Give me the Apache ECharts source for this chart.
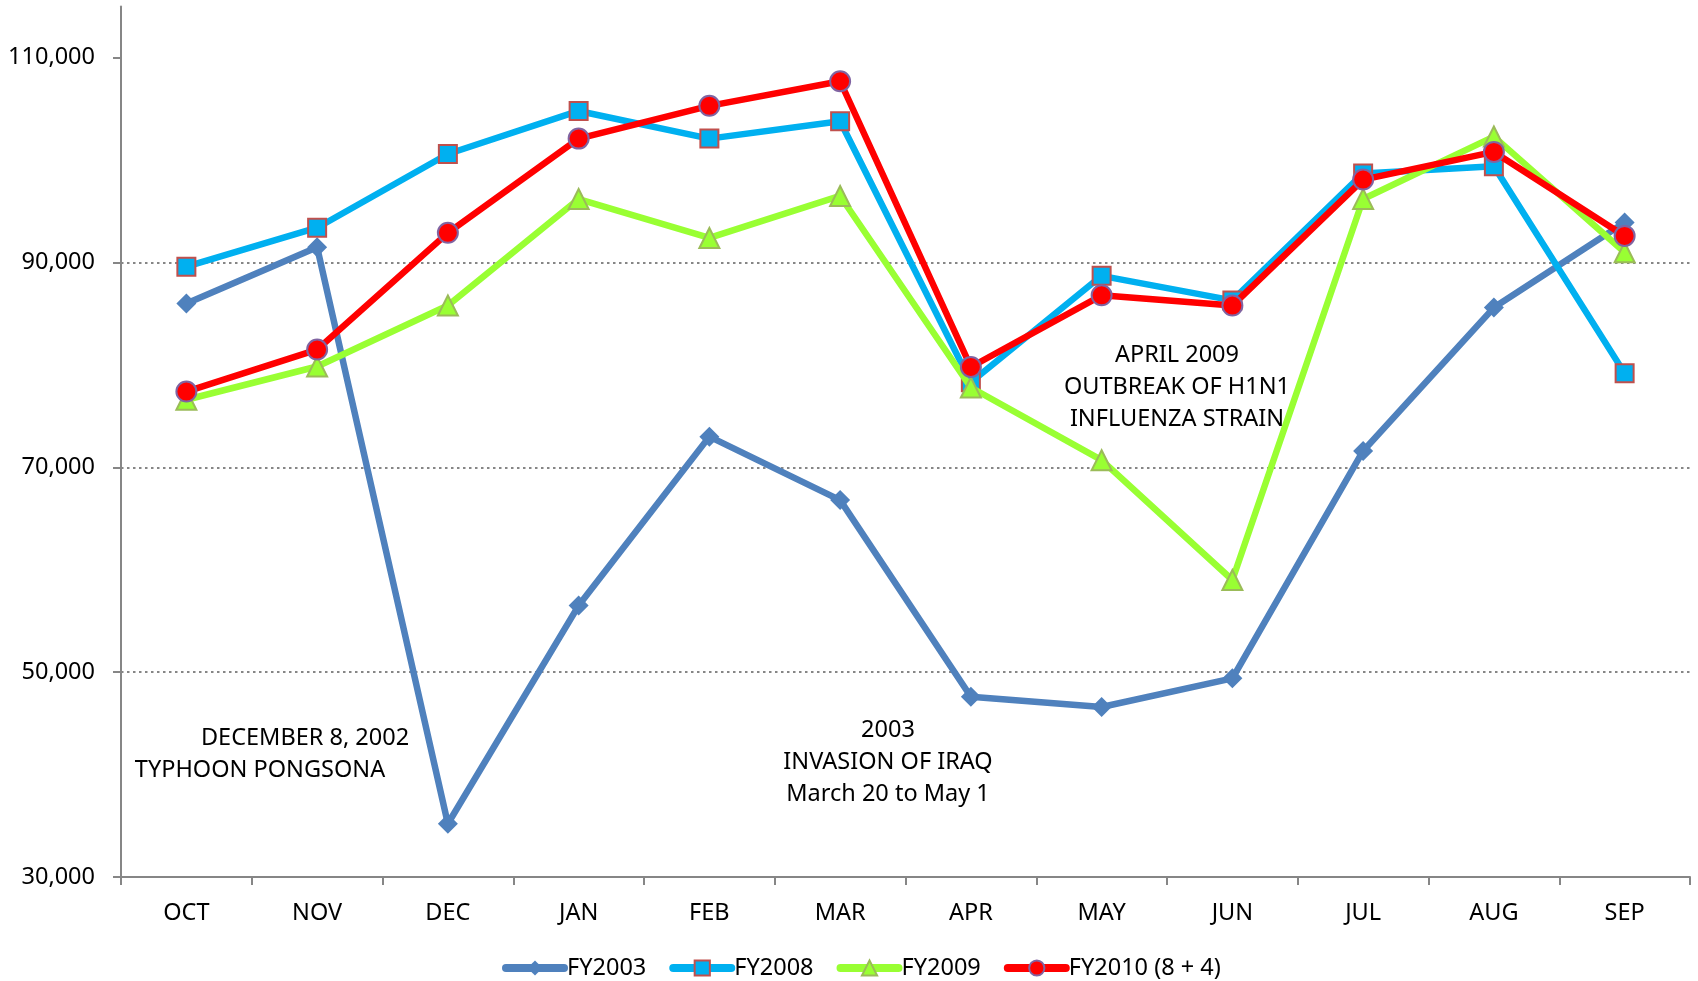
<!DOCTYPE html>
<html>
<head>
<meta charset="utf-8">
<script src="https://cdn.jsdelivr.net/npm/echarts@6/dist/echarts.min.js"></script>
<style>
html,body{margin:0;padding:0;background:#fff;}
#chart{width:1698px;height:981px;}
</style>
</head>
<body>
<div id="chart"></div>
<script>
const months = ['OCT','NOV','DEC','JAN','FEB','MAR','APR','MAY','JUN','JUL','AUG','SEP'];
const fy2003 = [86000, 91500, 35200, 56500, 73000, 66800, 47600, 46600, 49400, 71600, 85600, 93900];
const fy2008 = [89600, 93400, 100600, 104800, 102100, 103800, 78300, 88700, 86300, 98700, 99400, 79200];
const fy2009 = [76600, 79850, 85800, 96200, 92400, 96500, 77800, 70700, 59000, 96200, 102300, 91000];
const fy2010 = [77400, 81500, 92900, 102100, 105300, 107700, 79800, 86800, 85800, 98100, 100800, 92600];
const yTicks = [30000, 50000, 70000, 90000, 110000];
const seriesNames = ['FY2003', 'FY2008', 'FY2009', 'FY2010 (8 + 4)'];

const FONT = '"Noto Sans", "Open Sans", sans-serif';
const FS = 23.5;
const chart = echarts.init(document.getElementById('chart'), null, {renderer: 'canvas'});

function mkSeries(name, data, color, symbol, size, border, z) {
  return {
    name: name, type: 'line', data: data, z: z,
    symbol: symbol, symbolSize: size,
    showAllSymbol: true,
    lineStyle: {color: color, width: 6.5},
    itemStyle: {color: color, borderColor: border || color, borderWidth: border ? 2 : 0},
    emphasis: {disabled: true},
    animation: false
  };
}

const option = {
  animation: false,
  textStyle: {fontFamily: FONT},
  grid: {left: 121, right: 8, top: 6.5, bottom: 104, containLabel: false},
  xAxis: {
    type: 'category', data: months, boundaryGap: true,
    axisLine: {lineStyle: {color: '#868686', width: 2}},
    axisTick: {show: true, alignWithLabel: false, length: 8, lineStyle: {color: '#868686', width: 2}},
    axisLabel: {color: '#000', fontSize: FS, fontFamily: FONT, margin: 24}
  },
  yAxis: {
    type: 'value', min: 30000, max: 115000, interval: 20000,
    axisLine: {show: true, lineStyle: {color: '#868686', width: 2}},
    axisTick: {show: true, length: 8, lineStyle: {color: '#868686', width: 2}, customValues: yTicks},
    axisLabel: {color: '#000', fontSize: FS, fontFamily: FONT, margin: 26, customValues: yTicks,
      formatter: v => v.toLocaleString('en-US')},
    splitLine: {show: true, showMinLine: false, showMaxLine: false,
      lineStyle: {color: '#868686', width: 2, type: [2.5, 3.5]}}
  },
  legend: {
    data: seriesNames, left: 497, top: 951,
    itemWidth: 58, itemHeight: 19, itemGap: 23,
    lineStyle: {width: 8, cap: 'round'},
    textStyle: {color: '#000', fontSize: FS, fontFamily: FONT, padding: [0, 0, 0, -2]}
  },
  series: [
    mkSeries(seriesNames[0], fy2003, '#4F81BD', 'diamond', 20, null, 2),
    mkSeries(seriesNames[1], fy2008, '#00B0F0', 'rect', 18, '#C0504D', 3),
    mkSeries(seriesNames[2], fy2009, '#99FF33', 'triangle', 20, '#9BBB59', 4),
    mkSeries(seriesNames[3], fy2010, '#FF0000', 'circle', 20, '#8064A2', 5)
  ],
  graphic: [
    {type: 'text', x: 305, y: 738, z: 10, style: {text: 'DECEMBER 8, 2002', font: FS + 'px ' + FONT, fill: '#000', textAlign: 'center', textVerticalAlign: 'middle'}},
    {type: 'text', x: 260, y: 770, z: 10, style: {text: 'TYPHOON PONGSONA', font: FS + 'px ' + FONT, fill: '#000', textAlign: 'center', textVerticalAlign: 'middle'}},
    {type: 'text', x: 888, y: 762, z: 10, style: {text: '2003\nINVASION OF IRAQ\nMarch 20 to May 1', font: FS + 'px ' + FONT, fill: '#000', textAlign: 'center', textVerticalAlign: 'middle', lineHeight: 32}},
    {type: 'text', x: 1177, y: 387, z: 10, style: {text: 'APRIL 2009\nOUTBREAK OF H1N1\nINFLUENZA STRAIN', font: FS + 'px ' + FONT, fill: '#000', textAlign: 'center', textVerticalAlign: 'middle', lineHeight: 32}}
  ]
};
chart.setOption(option);
</script>
</body>
</html>
